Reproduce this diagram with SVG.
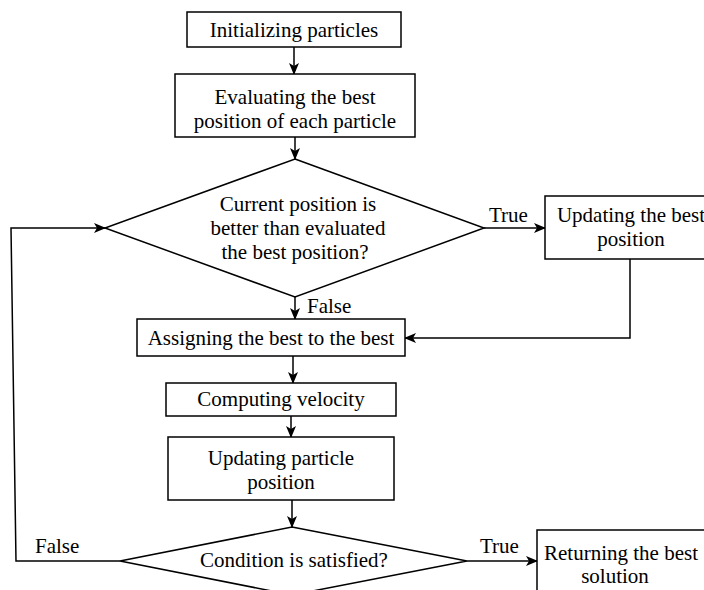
<svg xmlns="http://www.w3.org/2000/svg" width="704" height="590" viewBox="0 0 704 590">
<defs>
<marker id="arr" markerWidth="12" markerHeight="10" refX="11" refY="5" orient="auto" markerUnits="userSpaceOnUse">
<path d="M0,0 L12,5 L0,10 L3,5 Z" fill="#000"/>
</marker>
<style>
.n{fill:#fff;stroke:#000;stroke-width:1.5}
.t{font-family:"Liberation Serif","Times New Roman",serif;font-size:21px;fill:#000;text-anchor:middle}
.l{font-family:"Liberation Serif","Times New Roman",serif;font-size:21px;fill:#000}
.c{fill:none;stroke:#000;stroke-width:1.5}
</style>
</defs>
<rect width="704" height="590" fill="#fff"/>
<g id="connectors">
<line class="c" x1="294" y1="47" x2="294" y2="74" marker-end="url(#arr)"/>
<line class="c" x1="295" y1="137" x2="295" y2="159" marker-end="url(#arr)"/>
<line class="c" x1="484" y1="228" x2="545" y2="228" marker-end="url(#arr)"/>
<line class="c" x1="295" y1="297" x2="295" y2="319" marker-end="url(#arr)"/>
<polyline class="c" points="630,259 630,338 405,338" marker-end="url(#arr)"/>
<line class="c" x1="293" y1="356" x2="293" y2="383" marker-end="url(#arr)"/>
<line class="c" x1="291" y1="416" x2="291" y2="437" marker-end="url(#arr)"/>
<line class="c" x1="292" y1="500" x2="292" y2="527" marker-end="url(#arr)"/>
<line class="c" x1="467" y1="561" x2="537" y2="561" marker-end="url(#arr)"/>
<polyline class="c" points="120,561 16,561 11,228 105,228" marker-end="url(#arr)"/>
<text class="l" x="489" y="222">True</text>
<text class="l" x="307" y="313">False</text>
<text class="l" x="35" y="553">False</text>
<text class="l" x="480" y="553">True</text>
</g>
<g id="init">
<rect class="n" x="187" y="12" width="214" height="35"/>
<text class="t" x="294" y="37">Initializing particles</text>
</g>
<g id="evaluate">
<rect class="n" x="175" y="74" width="240" height="63"/>
<text class="t" x="295" y="104">Evaluating the best</text>
<text class="t" x="295" y="128">position of each particle</text>
</g>
<g id="decision1">
<polygon class="n" points="295,159 484,228 295,297 105,228"/>
<text class="t" x="298" y="211">Current position is</text>
<text class="t" x="298" y="235">better than evaluated</text>
<text class="t" x="295" y="259">the best position?</text>
</g>
<g id="update-best">
<rect class="n" x="545" y="196" width="172" height="63"/>
<text class="t" x="631" y="222">Updating the best</text>
<text class="t" x="631" y="246">position</text>
</g>
<g id="assign">
<rect class="n" x="137" y="319" width="268" height="37"/>
<text class="t" x="271" y="345">Assigning the best to the best</text>
</g>
<g id="velocity">
<rect class="n" x="166" y="383" width="230" height="33"/>
<text class="t" x="281" y="406">Computing velocity</text>
</g>
<g id="update-position">
<rect class="n" x="168" y="437" width="226" height="63"/>
<text class="t" x="281" y="465">Updating particle</text>
<text class="t" x="281" y="489">position</text>
</g>
<g id="decision2">
<polygon class="n" points="292,527 467,561 292,595 120,561"/>
<text class="t" x="294" y="567">Condition is satisfied?</text>
</g>
<g id="return">
<rect class="n" x="537" y="530" width="172" height="70"/>
<text class="t" x="621" y="560">Returning the best</text>
<text class="t" x="615" y="583">solution</text>
</g>
</svg>
